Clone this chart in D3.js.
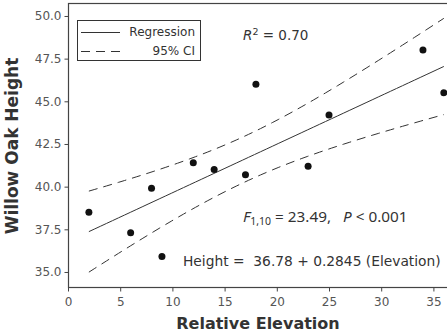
<!DOCTYPE html>
<html>
<head>
<meta charset="utf-8">
<title></title>
<script src="https://cdn.jsdelivr.net/npm/d3@7"></script>
<style>
body{ margin:0; background:#fff; }
.axis text{ font-family:"DejaVu Sans"; font-size:12px; fill:#555; }
.axis line{ stroke:#444; }
.axis path{ display:none; }
.frame{ fill:none; stroke:#444; stroke-width:1.2px; }
.fit{ fill:none; stroke:#333; stroke-width:1px; }
.ci{ fill:none; stroke:#333; stroke-width:1px; stroke-dasharray:9,6; }
.dot{ fill:#111; }
.title{ font-family:"DejaVu Sans"; font-weight:bold; font-size:16px; fill:#333; }
.legend text{ font-family:"DejaVu Sans"; font-size:12px; fill:#333; }
.note{ fill:#333; white-space:pre; }
</style>
</head>
<body>
<svg id="chart" width="447" height="334"></svg>
<script>
// data
var elevation = [2, 6, 8, 9, 12, 14, 17, 18, 23, 25, 34, 36];
var oakHeight = [38.5, 37.3, 39.9, 35.9, 41.4, 41.0, 40.7, 46.0, 41.2, 44.2, 48.0, 45.5];
var xTicks = [0, 5, 10, 15, 20, 25, 30, 35];
var yTicks = [35.0, 37.5, 40.0, 42.5, 45.0, 47.5, 50.0];
var legendLabels = ["Regression", "95% CI"];

var mLeft = 68, mTop = 3, mBottom = 287;

var x = d3.scaleLinear().domain([0, 37]).range([mLeft, mLeft + 37 * 10.44]);
var y = d3.scaleLinear().domain([34.12, 50.76]).range([mBottom, mTop]);

var svg = d3.select('#chart');

// least squares fit and 95% confidence band
var n = elevation.length;
var mx = d3.mean(elevation), my = d3.mean(oakHeight);
var sxx = d3.sum(elevation, function(d){ return (d - mx) * (d - mx); });
var sxy = d3.sum(elevation, function(d, i){ return (d - mx) * (oakHeight[i] - my); });
var slope = sxy / sxx;
var icept = my - slope * mx;
var sse = d3.sum(elevation, function(d, i){ var r = oakHeight[i] - (icept + slope * d); return r * r; });
var s = Math.sqrt(sse / (n - 2));
var tcrit = 2.228; // t(0.975, 10 df)

var xMin = d3.min(elevation), xMax = d3.max(elevation);
var band = d3.range(0, 61).map(function(i){
	var v = xMin + (xMax - xMin) * i / 60;
	var fit = icept + slope * v;
	var h = tcrit * s * Math.sqrt(1 / n + (v - mx) * (v - mx) / sxx);
	return { x: v, fit: fit, lo: fit - h, hi: fit + h };
});

var line = function(key){
	return d3.line()
		.x(function(d){ return x(d.x); })
		.y(function(d){ return y(d[key]); });
};

svg.append('path').datum(band).attr('class', 'ci').attr('d', line('hi'));
svg.append('path').datum(band).attr('class', 'ci').attr('d', line('lo'));
svg.append('path').datum(band).attr('class', 'fit').attr('d', line('fit'));

svg.selectAll('.dot')
	.data(elevation)
	.enter().append('circle')
	.attr('class', 'dot')
	.attr('cx', function(d){ return x(d); })
	.attr('cy', function(d, i){ return y(oakHeight[i]); })
	.attr('r', 3.5);

// frame
svg.append('rect')
	.attr('class', 'frame')
	.attr('x', mLeft + 0.5)
	.attr('y', mTop + 0.5)
	.attr('width', 420)
	.attr('height', mBottom - mTop);

// axes
svg.append('g')
	.attr('class', 'axis')
	.attr('transform', 'translate(' + (mLeft + 0.5) + ',0)')
	.call(d3.axisLeft(y).tickValues(yTicks).tickFormat(d3.format('.1f')).tickSize(4).tickPadding(3));

svg.append('g')
	.attr('class', 'axis')
	.attr('transform', 'translate(0,' + (mBottom + 0.5) + ')')
	.call(d3.axisBottom(x).tickValues(xTicks).tickFormat(d3.format('d')).tickSize(4).tickPadding(6));

// axis titles
svg.append('text')
	.attr('class', 'title')
	.attr('text-anchor', 'middle')
	.attr('transform', 'translate(18,146) rotate(-90)')
	.style('font-size', '17px')
	.text('Willow Oak Height');

svg.append('text')
	.attr('class', 'title')
	.attr('text-anchor', 'middle')
	.attr('x', 258)
	.attr('y', 329)
	.text('Relative Elevation');

// legend
var lg = svg.append('g').attr('class', 'legend');
lg.append('rect')
	.attr('x', 77.5).attr('y', 20.5).attr('width', 123).attr('height', 40)
	.attr('fill', '#fff').attr('stroke', '#333');
legendLabels.forEach(function(lab, i){
	var yy = 32 + i * 19;
	lg.append('line')
		.attr('class', i === 0 ? 'fit' : 'ci')
		.attr('x1', 81).attr('x2', 120)
		.attr('y1', yy + 0.5).attr('y2', yy + 0.5);
	lg.append('text')
		.attr('x', 195).attr('y', yy + 4)
		.attr('text-anchor', 'end')
		.text(lab);
});

// annotations
var r2 = svg.append('text').attr('class', 'note')
	.attr('x', 243).attr('y', 40)
	.style('font-family', '"DejaVu Sans"').style('font-size', '13.5px');
r2.append('tspan').style('font-style', 'italic').text('R');
r2.append('tspan').attr('dy', -5).style('font-size', '9.5px').text('2');
r2.append('tspan').attr('dy', 5).text(' = 0.70');

var ft = svg.append('text').attr('class', 'note')
	.attr('x', 243).attr('y', 222)
	.style('font-family', '"Noto Sans"').style('font-size', '15.3px');
ft.append('tspan').style('font-style', 'italic').text('F');
ft.append('tspan').attr('dy', 3).style('font-size', '10.5px').text('1,10');
ft.append('tspan').attr('dy', -3).text(' = 23.49,   ');
ft.append('tspan').style('font-style', 'italic').text('P');
ft.append('tspan').text(' < 0.001');

svg.append('text').attr('class', 'note')
	.attr('x', 183).attr('y', 266)
	.style('font-family', '"DejaVu Sans"').style('font-size', '13.8px')
	.text('Height =  36.78 + 0.2845 (Elevation)');
</script>
</body>
</html>
